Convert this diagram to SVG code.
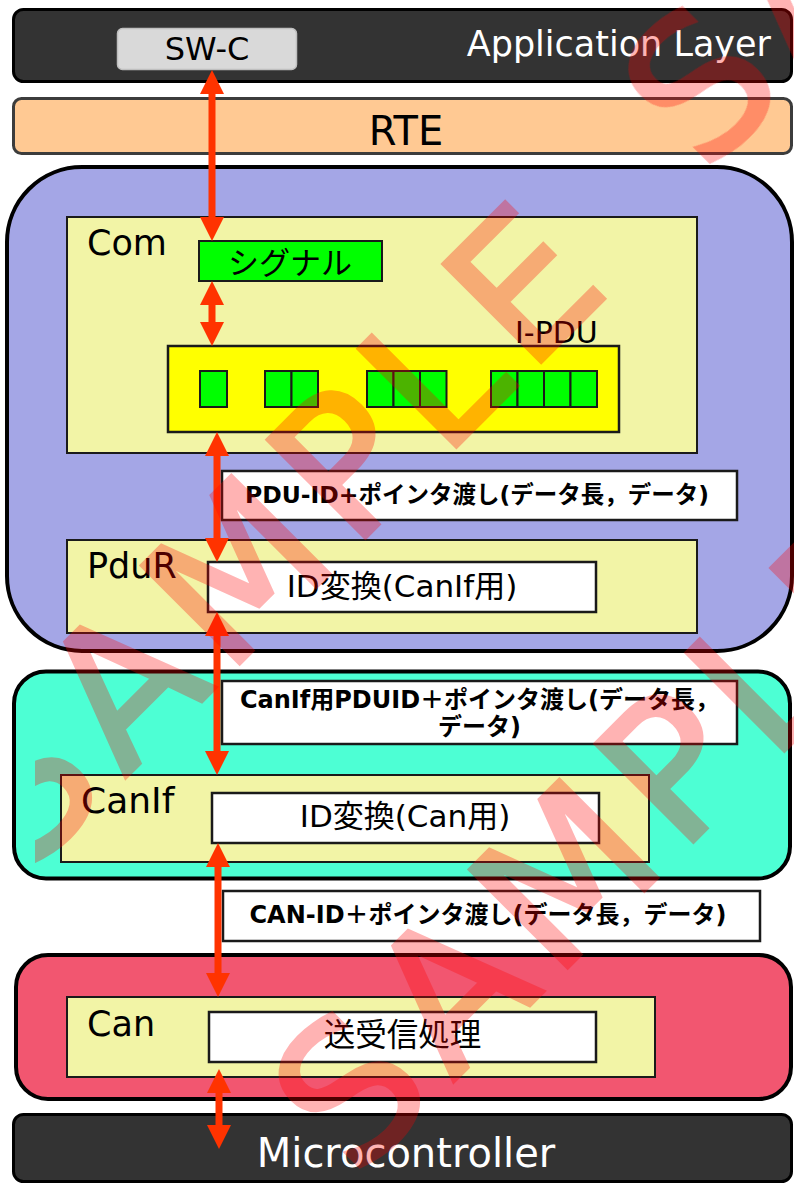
<svg xmlns="http://www.w3.org/2000/svg" width="794" height="1183" viewBox="0 0 794 1183">
<style>
.t{font-family:"DejaVu Sans","Noto Sans CJK JP",sans-serif;fill:#000}
.b{font-weight:bold}
.box{stroke:#1a1a1a;stroke-width:2}
.inner{fill:#f2f4a6;stroke:#1a1a1a;stroke-width:2}
.white{fill:#fff;stroke:#1a1a1a;stroke-width:2.5}
.cell{fill:#00ff00;stroke:#1a1a1a;stroke-width:2}
.arr{stroke:#ff3300;stroke-width:7;fill:none;marker-start:url(#ah);marker-end:url(#ah)}
</style>
<defs>
<marker id="ah" viewBox="0 0 24 24" markerWidth="24" markerHeight="24" refX="2" refY="12" orient="auto-start-reverse" markerUnits="userSpaceOnUse">
<path d="M0,0 L24,12 L0,24 z" fill="#ff3300"/>
</marker>
<clipPath id="wmclip"><rect x="35" y="0" width="759" height="1183"/></clipPath>
</defs>
<rect width="794" height="1183" fill="#fff"/>

<g id="app-layer">
<rect x="13.5" y="9.5" width="778" height="72" rx="10" fill="#333333" stroke="#000" stroke-width="3"/>
<text class="t" x="771" y="56" font-size="35" text-anchor="end" style="fill:#fff">Application Layer</text>
</g>
<g id="swc">
<rect x="117.5" y="28.5" width="179" height="41" rx="5" fill="#d9d9d9" stroke="#bfbfbf" stroke-width="1.5"/>
<text class="t" x="207" y="60" font-size="32" text-anchor="middle">SW-C</text>
</g>
<g id="rte">
<rect x="13.5" y="98.5" width="778" height="55" rx="8" fill="#ffc993" stroke="#3c3c3c" stroke-width="3"/>
<text class="t" x="406" y="145" font-size="40" text-anchor="middle">RTE</text>
</g>

<g id="com-region">
<rect x="7" y="167" width="785" height="484" rx="75" fill="#a4a6e6" stroke="#000" stroke-width="4"/>
</g>
<g id="com">
<rect class="inner" x="67" y="217" width="630" height="236"/>
<text class="t" x="87" y="255" font-size="35">Com</text>
</g>
<g id="signal">
<rect class="cell" x="199" y="241" width="183" height="40"/>
<text class="t" x="290" y="274" font-size="31" text-anchor="middle">シグナル</text>
</g>
<g id="ipdu">
<rect x="168" y="346" width="451" height="86" fill="#ffff00" stroke="#1a1a1a" stroke-width="2.5"/>
<text class="t" x="515" y="343" font-size="30">I-PDU</text>
<rect class="cell" x="200" y="371" width="27" height="36"/>
<rect class="cell" x="265" y="371" width="26.5" height="36"/>
<rect class="cell" x="291.5" y="371" width="26.5" height="36"/>
<rect class="cell" x="367" y="371" width="26.5" height="36"/>
<rect class="cell" x="393.5" y="371" width="26.5" height="36"/>
<rect class="cell" x="420" y="371" width="26.5" height="36"/>
<rect class="cell" x="491" y="371" width="26.5" height="36"/>
<rect class="cell" x="517.5" y="371" width="26.5" height="36"/>
<rect class="cell" x="544" y="371" width="26.5" height="36"/>
<rect class="cell" x="570.5" y="371" width="26.5" height="36"/>
</g>
<g id="label-pduid">
<rect class="white" x="222" y="471" width="515" height="49"/>
<text class="t b" x="477" y="503" font-size="23.5" text-anchor="middle">PDU-ID+ポインタ渡し(データ長，データ)</text>
</g>
<g id="pdur">
<rect class="inner" x="67" y="540" width="630" height="93"/>
<text class="t" x="87" y="578" font-size="35">PduR</text>
</g>
<g id="pdur-idconv">
<rect class="white" x="208" y="562" width="388" height="50"/>
<text class="t" x="402" y="597" font-size="31" text-anchor="middle">ID変換(CanIf用)</text>
</g>

<g id="canif-region">
<rect x="14" y="671.5" width="776" height="207" rx="32" fill="#4dffd4" stroke="#000" stroke-width="4"/>
</g>
<g id="label-canifpduid">
<rect class="white" x="222" y="681" width="515" height="63"/>
<text class="t b" x="479.5" y="708" font-size="24" text-anchor="middle">CanIf用PDUID＋ポインタ渡し(データ長，</text>
<text class="t b" x="479.5" y="735" font-size="24" text-anchor="middle">データ)</text>
</g>
<g id="canif">
<rect class="inner" x="61" y="775" width="588" height="87"/>
<text class="t" x="81" y="813" font-size="36">CanIf</text>
</g>
<g id="canif-idconv">
<rect class="white" x="212" y="793" width="387" height="50"/>
<text class="t" x="405" y="827" font-size="31" text-anchor="middle">ID変換(Can用)</text>
</g>
<g id="label-canid">
<rect class="white" x="223" y="891" width="537" height="50"/>
<text class="t b" x="488" y="923" font-size="24" text-anchor="middle">CAN-ID＋ポインタ渡し(データ長，データ)</text>
</g>

<g id="can-region">
<rect x="16" y="955" width="775" height="144" rx="32" fill="#f25670" stroke="#000" stroke-width="4"/>
</g>
<g id="can">
<rect class="inner" x="67" y="997" width="588" height="80"/>
<text class="t" x="87" y="1036" font-size="35">Can</text>
</g>
<g id="can-txrx">
<rect class="white" x="209" y="1012" width="387" height="50"/>
<text class="t" x="402.5" y="1046" font-size="31.5" text-anchor="middle">送受信処理</text>
</g>

<g id="microcontroller">
<rect x="13.5" y="1114.5" width="778" height="67" rx="10" fill="#333333" stroke="#000" stroke-width="3"/>
<text class="t" x="406" y="1167" font-size="40" text-anchor="middle" style="fill:#fff">Microcontroller</text>
</g>

<g id="connectors">
<line class="arr" x1="212" y1="92" x2="212" y2="219"/>
<line class="arr" x1="212" y1="303" x2="212" y2="324"/>
<line class="arr" x1="217" y1="454" x2="217" y2="540"/>
<line class="arr" x1="217" y1="634" x2="217" y2="753"/>
<line class="arr" x1="218" y1="865" x2="218" y2="975"/>
<line class="arr" x1="219" y1="1091" x2="219" y2="1127"/>
</g>

<g id="watermark" clip-path="url(#wmclip)" opacity="0.3" font-family="DejaVu Sans, sans-serif" font-size="190" fill="#ff0000" stroke="#ff0000" stroke-width="4" letter-spacing="14">
<text transform="translate(27,876) rotate(-45)">SAMPLE</text>
<text transform="translate(355,1180) rotate(-45)">SAMPLE</text>
<text transform="translate(705,175) rotate(-45)">SAMPLE</text>
</g>
</svg>
